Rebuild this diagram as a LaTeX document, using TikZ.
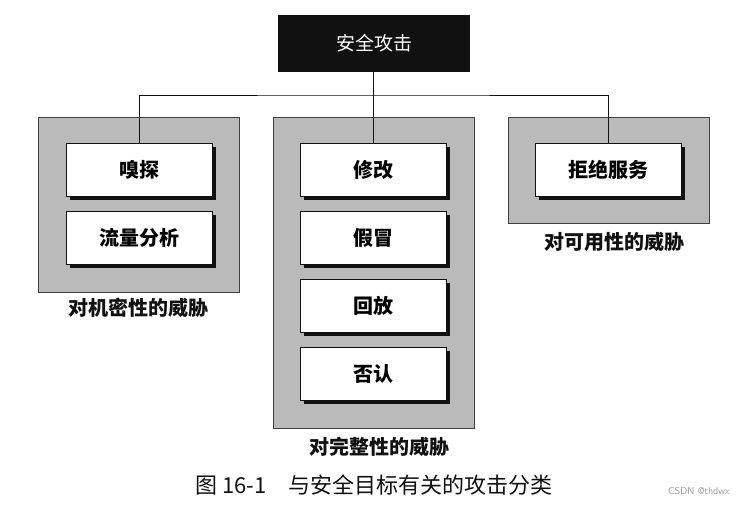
\documentclass[tikz,border=0pt]{standalone}
\usepackage{fontspec}
\usepackage{xcolor}
\usepackage{tikz}
\usetikzlibrary{shadows}
\newfontfamily\cjk{Noto Sans CJK SC}
\definecolor{ink}{HTML}{111111}
\definecolor{panelgray}{HTML}{BABABA}
\definecolor{mark}{HTML}{9A9A9A}
\tikzset{
  root/.style={fill=ink, text=white, minimum width=192pt, minimum height=57pt, inner sep=0pt, font=\cjk\fontsize{19}{21}\selectfont},
  panel/.style={fill=panelgray, draw=black!75, line width=0.8pt, inner sep=0pt},
  item/.style={draw=ink, fill=white, line width=0.8pt, minimum width=146pt, minimum height=53pt, inner sep=0pt,
    font=\cjk\bfseries\fontsize{20}{22}\selectfont,
    drop shadow={shadow xshift=3.5pt, shadow yshift=-3.5pt, fill=ink, opacity=1}},
  link/.style={draw=ink, line width=0.8pt},
  lab/.style={text=ink, font=\cjk\bfseries\fontsize{20}{22}\selectfont},
  captxt/.style={text=ink, font=\cjk\fontsize{22}{24}\selectfont},
}

\begin{document}
\begin{tikzpicture}[x=1pt,y=-1pt]
  \useasboundingbox (0,0) rectangle (749,504);
  % groups of threats
  \node[panel,minimum width=201pt,minimum height=175pt] (conf) at (138.5,204.5) {};
  \node[panel,minimum width=201pt,minimum height=311pt] (integ) at (373.5,272.5) {};
  \node[panel,minimum width=201pt,minimum height=106pt] (avail) at (608.5,170) {};
  \node[lab] (conflab) at (138,308) {对机密性的威胁};
  \node[lab] (integlab) at (379,447) {对完整性的威胁};
  \node[lab] (availlab) at (614,242) {对可用性的威胁};
  % attacks
  \node[root] (root) at (374,43) {安全攻击};
  \node[item] (xt) at (139,170) {嗅探};
  \node[item] (ll) at (139,237.5) {流量分析};
  \node[item] (xg) at (373,170) {修改};
  \node[item] (jm) at (373,237.5) {假冒};
  \node[item] (hf) at (373,305.5) {回放};
  \node[item] (fr) at (373,373.5) {否认};
  \node[item] (jf) at (608,170) {拒绝服务};
  % tree lines
  \coordinate (bus) at (373,95);
  \draw[link] (root.south -| xg.north) -- (xg.north);
  \draw[link] (xt.north) |- (bus) -| (jf.north);
  \node[captxt] (caption) at (374,485) {图 16-1\hspace{1em}与安全目标有关的攻击分类};
  \node[text=mark,font=\fontsize{10}{12}\selectfont\sffamily] (csdn) at (699,491) {CSDN @thdwx};
\end{tikzpicture}
\end{document}
